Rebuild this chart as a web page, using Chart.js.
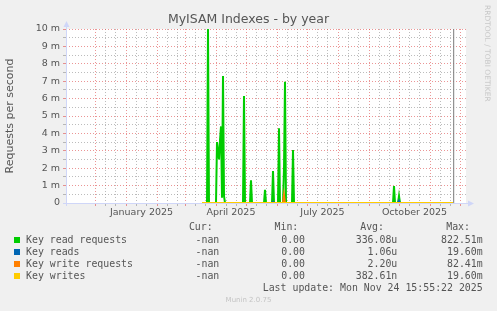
<!DOCTYPE html>
<html>
<head>
<meta charset="utf-8">
<script src="https://cdn.jsdelivr.net/npm/chart.js@4"></script>
<style>
  body { margin: 0; background: #f0f0f0; }
  #wrap { position: relative; width: 497px; height: 311px; overflow: hidden; font-family: "DejaVu Sans"; color: #555; }
  canvas { position: absolute; left: 0; top: 0; }
  .t { position: absolute; white-space: pre; }
  .m { font-family: "DejaVu Sans Mono"; font-size: 9.9px; line-height: 12px; }
</style>
</head>
<body>
<div id="wrap">
  <canvas id="chart" width="497" height="311"></canvas>
  <div class="t" style="left:0;width:497px;top:11px;text-align:center;font-size:12.5px;line-height:16px;">MyISAM Indexes - by year</div>
  <div class="t" style="left:492px;top:5px;font-size:7.5px;line-height:9px;color:#c8c8c8;transform:rotate(90deg);transform-origin:0 0;">RRDTOOL / TOBI OETIKER</div>
  <div id="legend"></div>
  <div class="t" style="left:0;width:497px;top:296px;text-align:center;font-size:7px;line-height:9px;color:#c4c4c4;">Munin 2.0.75</div>
</div>
<script>
// days counted from 1 Jan 2025 (day 0)
const monthStarts = [-31, 0, 31, 59, 90, 120, 151, 181, 212, 243, 273, 304, 334];
const quarterMid = [15.5, 105, 196.5, 288.5];
const quarterLabels = ['January 2025', 'April 2025', 'July 2025', 'October 2025'];
const nowDay = 327.7;

// Key read requests (m/s)
const readDays   = [76, 81, 82, 83, 90, 91, 92, 93, 94, 95, 96, 97, 98, 99, 117, 118, 119, 124, 125, 126, 138, 139, 140, 146, 147, 148, 152, 153, 154, 157, 158, 159, 160, 166, 167, 168, 267, 268, 269, 272, 273, 274, 327];
const readValues = [0,  0,  10, 0,  0,  3.5, 3.0, 2.5, 3.6, 4.4, 0.3, 7.3, 0.4, 0,  0,   6.15, 0,  0,   1.3, 0,   0,   0.75, 0,  0,   1.84, 0,  0,   4.3, 0,   0,   2.0, 6.97, 0,  0,   3.05, 0,  0,   0.98, 0,  0,   0.4, 0,   0];
// Key reads
const keyReadDays   = [76, 146, 147, 148, 272, 273, 274, 327];
const keyReadValues = [0,  0,   0.06, 0,  0,   0.12, 0,  0];
// Key write requests
const writeReqDays   = [76, 157, 158, 159, 327];
const writeReqValues = [0,  0,   0.46, 0,  0];
// Key writes
const writeDays   = [76, 327];
const writeValues = [0,  0];

const legendNames = ['Key read requests', 'Key reads', 'Key write requests', 'Key writes'];
const legendColors = ['#00cc00', '#0066b3', '#ff8000', '#ffcc00'];
const curVals = ['-nan', '-nan', '-nan', '-nan'];
const minVals = ['0.00', '0.00', '0.00', '0.00'];
const avgVals = ['336.08u', '1.06u', '2.20u', '382.61n'];
const maxVals = ['822.51m', '19.60m', '82.41m', '19.60m'];

const xMin = -60, xMax = 340;

function pts(days, vals) {
  return days.map((d, i) => ({ x: d, y: vals[i] }));
}

const gridTicks = [];
monthStarts.forEach(m => { gridTicks.push(m, m + 10, m + 20); });
quarterMid.forEach(q => gridTicks.push(q));

const MAJOR = 'rgba(222,79,79,0.6)';
const MINOR = 'rgba(143,143,143,0.6)';

const decor = {
  id: 'decor',
  beforeDraw(chart) {
    const a = chart.chartArea, ctx = chart.ctx;
    ctx.save();
    ctx.fillStyle = '#ffffff';
    ctx.fillRect(a.left, a.top, a.right - a.left, a.bottom - a.top);
    ctx.restore();
  },
  afterDraw(chart) {
    const a = chart.chartArea, ctx = chart.ctx;
    const y0 = chart.scales.y.getPixelForValue(0);
    const x0 = chart.scales.x.getPixelForValue(xMin);
    ctx.save();
    ctx.strokeStyle = '#cfd6f8';
    ctx.fillStyle = '#cfd6f8';
    ctx.lineWidth = 1;
    ctx.beginPath();
    ctx.moveTo(x0 - 3, Math.round(y0) + 0.5);
    ctx.lineTo(a.right + 4, Math.round(y0) + 0.5);
    ctx.moveTo(Math.round(x0) + 0.5, y0 + 3);
    ctx.lineTo(Math.round(x0) + 0.5, a.top - 4);
    ctx.stroke();
    ctx.beginPath();
    ctx.moveTo(a.right + 8, Math.round(y0) + 0.5);
    ctx.lineTo(a.right + 2, Math.round(y0) - 2.5);
    ctx.lineTo(a.right + 2, Math.round(y0) + 3.5);
    ctx.closePath();
    ctx.fill();
    ctx.beginPath();
    ctx.moveTo(Math.round(x0) + 0.5, a.top - 8);
    ctx.lineTo(Math.round(x0) - 2.5, a.top - 2);
    ctx.lineTo(Math.round(x0) + 3.5, a.top - 2);
    ctx.closePath();
    ctx.fill();
    ctx.restore();
  }
};

new Chart(document.getElementById('chart').getContext('2d'), {
  type: 'line',
  data: {
    datasets: [
      { label: 'now', data: [{ x: nowDay, y: 0 }, { x: nowDay, y: 10 }], borderColor: '#7a7a7a', borderWidth: 1, order: 5, clip: 0 },
      { label: legendNames[0], data: pts(readDays, readValues), borderColor: legendColors[0], borderWidth: 2, order: 4, clip: 0 },
      { label: legendNames[1], data: pts(keyReadDays, keyReadValues), borderColor: legendColors[1], borderWidth: 2, order: 3, clip: 0 },
      { label: legendNames[2], data: pts(writeReqDays, writeReqValues), borderColor: legendColors[2], borderWidth: 2, order: 2, clip: 0 },
      { label: legendNames[3], data: pts(writeDays, writeValues), borderColor: legendColors[3], borderWidth: 2, order: 1, clip: 0 }
    ]
  },
  options: {
    responsive: false,
    animation: false,
    devicePixelRatio: 1,
    layout: { padding: { left: 0, top: 29, right: 31, bottom: 88 } },
    elements: { point: { radius: 0 }, line: { tension: 0, fill: false } },
    plugins: { legend: { display: false }, tooltip: { enabled: false } },
    scales: {
      x: {
        type: 'linear',
        min: xMin,
        max: xMax,
        afterBuildTicks: s => { s.ticks = gridTicks.filter(v => v >= xMin && v <= xMax).map(v => ({ value: v })); },
        afterFit: s => { s.height = 20; },
        border: { display: false, dash: [1, 2] },
        grid: {
          color: c => monthStarts.includes(c.tick.value) ? MAJOR : (quarterMid.includes(c.tick.value) ? 'rgba(0,0,0,0)' : MINOR),
          tickLength: 3
        },
        ticks: {
          autoSkip: false,
          maxRotation: 0,
          padding: 1,
          color: '#555',
          font: { family: 'DejaVu Sans', size: 9.5 },
          callback: v => { const i = quarterMid.indexOf(v); return i >= 0 ? quarterLabels[i] : ''; }
        }
      },
      y: {
        min: 0,
        max: 10,
        afterFit: s => { s.width = 66; },
        border: { display: false, dash: [1, 2] },
        grid: {
          color: c => Number.isInteger(c.tick.value) ? MAJOR : MINOR,
          tickLength: 3
        },
        ticks: {
          stepSize: 0.5,
          autoSkip: false,
          padding: 3,
          color: '#555',
          font: { family: 'DejaVu Sans', size: 9.5 },
          callback: v => Number.isInteger(v) ? (v === 0 ? '0' : v + ' m') : ''
        },
        title: {
          display: true,
          text: 'Requests per second',
          color: '#555',
          font: { family: 'DejaVu Sans', size: 11 },
          padding: { top: 4, bottom: 0 }
        }
      }
    }
  },
  plugins: [decor]
});

// legend table under the chart
const legend = document.getElementById('legend');
function cell(text, rightEdge, top) {
  const d = document.createElement('div');
  d.className = 't m';
  d.style.right = (497 - rightEdge) + 'px';
  d.style.top = top + 'px';
  d.style.textAlign = 'right';
  d.textContent = text;
  legend.appendChild(d);
}
const headTop = 221.3;
cell('Cur:', 212.7, headTop);
cell('Min:', 298.3, headTop);
cell('Avg:', 384, headTop);
cell('Max:', 470, headTop);
const rowTops = [234, 246, 258, 269.7];
legendNames.forEach((n, i) => {
  const sq = document.createElement('div');
  sq.className = 't';
  sq.style.cssText = `left:14px;top:${rowTops[i] + 3}px;width:6px;height:6px;background:${legendColors[i]};`;
  legend.appendChild(sq);
  const lab = document.createElement('div');
  lab.className = 't m';
  lab.style.left = '26px';
  lab.style.top = rowTops[i] + 'px';
  lab.textContent = n;
  legend.appendChild(lab);
  cell(curVals[i], 219.3, rowTops[i]);
  cell(minVals[i], 305, rowTops[i]);
  cell(avgVals[i], 397.3, rowTops[i]);
  cell(maxVals[i], 482.7, rowTops[i]);
});
cell('Last update: Mon Nov 24 15:55:22 2025', 482.7, 281.7);
</script>
</body>
</html>
